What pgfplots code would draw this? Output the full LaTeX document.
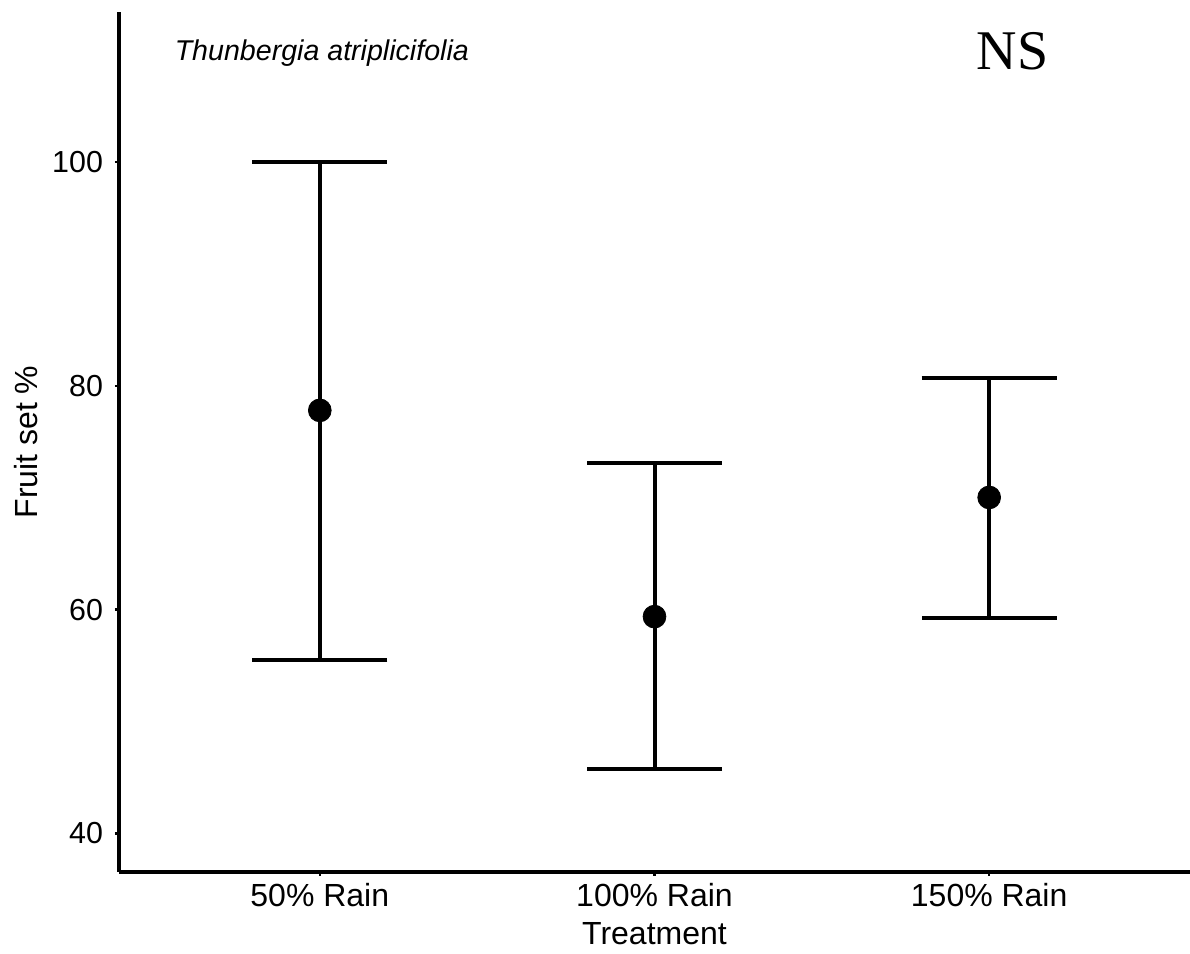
\documentclass[border=0pt]{standalone}
\usepackage{fontspec}
\setmainfont{Liberation Sans}
\newfontfamily\nsfont{Liberation Serif}
\usepackage{pgfplots}
\pgfplotsset{compat=1.18}
\begin{document}
\begin{tikzpicture}
\path[use as bounding box] (0,0) rectangle (595pt,477pt);
\begin{axis}[
  at={(59.5pt,41pt)}, anchor=south west,
  scale only axis, width=535.5pt, height=430pt,
  xmin=-0.6, xmax=2.6, ymin=36.55, ymax=113.4,
  axis x line*=bottom, axis y line*=left,
  axis line style={line width=2pt, -},
  xtick={0,1,2}, xticklabels={50\% Rain,100\% Rain,150\% Rain},
  ytick={40,60,80,100},
  tick align=outside, major tick length=2pt,
  tick style={line width=1.2pt, black},
  xticklabel style={font=\fontsize{16}{16}\selectfont},
  yticklabel style={font=\fontsize{15.2}{15.2}\selectfont, xshift=-2.5pt},
  /pgf/number format/assume math mode=true,
  xlabel={Treatment}, ylabel={Fruit set \%},
  label style={font=\fontsize{16}{16}\selectfont},
  xlabel style={at={(axis description cs:0.5,-0.0721)}, anchor=center},
  ylabel style={at={(axis description cs:-0.0868,0.5)}, anchor=center, rotate=0},
  clip=false,
]
\addplot[only marks, mark=*, mark size=5.7pt, black,
  error bars/.cd, y dir=both, y explicit,
  error bar style={line width=2pt, black},
  error mark options={rotate=90, line width=2pt, mark size=33.75pt, black}]
  coordinates {
  (0,77.8)  += (0,22.2)  -= (0,22.3)
  (1,59.37) += (0,13.73) -= (0,13.62)
  (2,70.02) += (0,10.68) -= (0,10.74)
  };
\node[anchor=base, font=\fontsize{14.3}{14.3}\selectfont\itshape] at (axis cs:0.006,109.06) {Thunbergia atriplicifolia};
\node[anchor=base, font=\fontsize{28}{28}\selectfont\nsfont] at (axis cs:2.07,108.26) {NS};
\end{axis}
\end{tikzpicture}
\end{document}
